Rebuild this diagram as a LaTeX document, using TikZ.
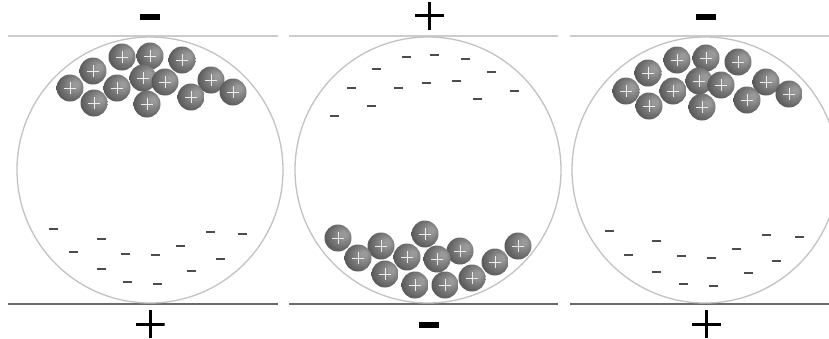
\documentclass[tikz,border=0pt]{standalone}
\definecolor{ballhi}{gray}{0.6}
\definecolor{ballmid}{gray}{0.41}
\definecolor{balllo}{gray}{0.23}
\definecolor{crossgray}{gray}{0.93}
\definecolor{rimgray}{gray}{0.76}
\definecolor{topplate}{gray}{0.8}
\definecolor{botplate}{gray}{0.42}
\definecolor{dashgray}{gray}{0.3}
% sphere shading lit from the upper right
\pgfdeclareradialshading{chargeball}{\pgfpoint{12bp}{8bp}}{%
  color(0bp)=(ballhi); color(5bp)=(ballhi); color(24bp)=(ballmid);
  color(42bp)=(balllo); color(50bp)=(balllo)}
\tikzset{
  ball/.style={circle, minimum size=27pt, inner sep=0pt, shading=chargeball,
    path picture={\draw[crossgray, line width=0.9pt]
      ([xshift=-6pt]path picture bounding box.center) -- ([xshift=6pt]path picture bounding box.center)
      ([yshift=-6pt]path picture bounding box.center) -- ([yshift=6pt]path picture bounding box.center);}},
  electron/.style={rectangle, minimum width=9pt, minimum height=2.6pt, inner sep=0pt, fill=dashgray},
  bigminus/.style={rectangle, minimum width=20pt, minimum height=6pt, inner sep=0pt, fill=black},
  bigplus/.style={rectangle, minimum width=29pt, minimum height=28pt, inner sep=0pt,
    path picture={\draw[black, line width=3pt]
      (path picture bounding box.west) -- (path picture bounding box.east)
      (path picture bounding box.south) -- (path picture bounding box.north);}},
  vessel/.style={circle, draw=rimgray, line width=1.3pt, minimum size=266pt, inner sep=0pt},
  topline/.style={draw=topplate, line width=2pt},
  botline/.style={draw=botplate, line width=2pt},
}
\begin{document}
\begin{tikzpicture}[x=1pt, y=-1pt]
  \useasboundingbox (0,0) rectangle (829,338);
  \clip (0,0) rectangle (829,338);

  % plates
  \foreach \a/\b [count=\i] in {8/278, 289/558, 570/829} {
    \coordinate (t\i a) at (\a,36);  \coordinate (t\i b) at (\b,36);
    \coordinate (p\i a) at (\a,304); \coordinate (p\i b) at (\b,304);
    \draw[topline] (t\i a) -- (t\i b);
    \draw[botline] (p\i a) -- (p\i b);
  }

  % vessels
  \node[vessel] (v1) at (150,170) {};
  \node[vessel] (v2) at (428,170) {};
  \node[vessel] (v3) at (705,170) {};

  % plate polarity signs
  \node[bigminus] (s1t) at (150,17) {};
  \node[bigplus]  (s2t) at (429.5,15.5) {};
  \node[bigminus] (s3t) at (706,17) {};
  \node[bigplus]  (s1b) at (150,324) {};
  \node[bigminus] (s2b) at (429,325) {};
  \node[bigplus]  (s3b) at (706.5,324) {};

  % positive charges, left vessel
  \foreach \x/\y [count=\i] in {122/57, 150/56, 182/60, 93/71, 70/88, 117/88,
      143/78, 165/82, 211/80, 233/92, 191/97, 94/103, 147/104}
    \node[ball] (a\i) at (\x,\y) {};
  % positive charges, middle vessel
  \foreach \x/\y [count=\i] in {338/238, 425/234, 381/246, 518/246, 460/251,
      358/258, 407/257, 437/259, 495/262, 385/274, 472/278, 415/285, 445/285}
    \node[ball] (b\i) at (\x,\y) {};
  % positive charges, right vessel
  \foreach \x/\y [count=\i] in {677/60, 706/58, 738/62, 648/73, 626/91, 673/91,
      699/81, 721/85, 766/82, 789/94, 747/100, 649/106, 702/107}
    \node[ball] (c\i) at (\x,\y) {};

  % negative charges, left vessel
  \foreach \x/\y [count=\i] in {53/229, 101/239, 73/252, 125/254, 155/255,
      180/246, 210/232, 242/234, 220/259, 191/271, 101/269, 127/282, 157/284}
    \node[electron] (e\i) at (\x,\y) {};
  % negative charges, middle vessel
  \foreach \x/\y [count=\i] in {406/57, 434/55, 465/59, 376/69, 491/72, 351/88,
      398/88, 426/83, 456/81, 514/91, 477/99, 371/106, 334/116}
    \node[electron] (f\i) at (\x,\y) {};
  % negative charges, right vessel
  \foreach \x/\y [count=\i] in {609/231, 656/241, 628/255, 681/256, 711/258,
      736/249, 766/235, 799/237, 776/261, 748/273, 656/272, 683/284, 713/286}
    \node[electron] (g\i) at (\x,\y) {};
\end{tikzpicture}
\end{document}
